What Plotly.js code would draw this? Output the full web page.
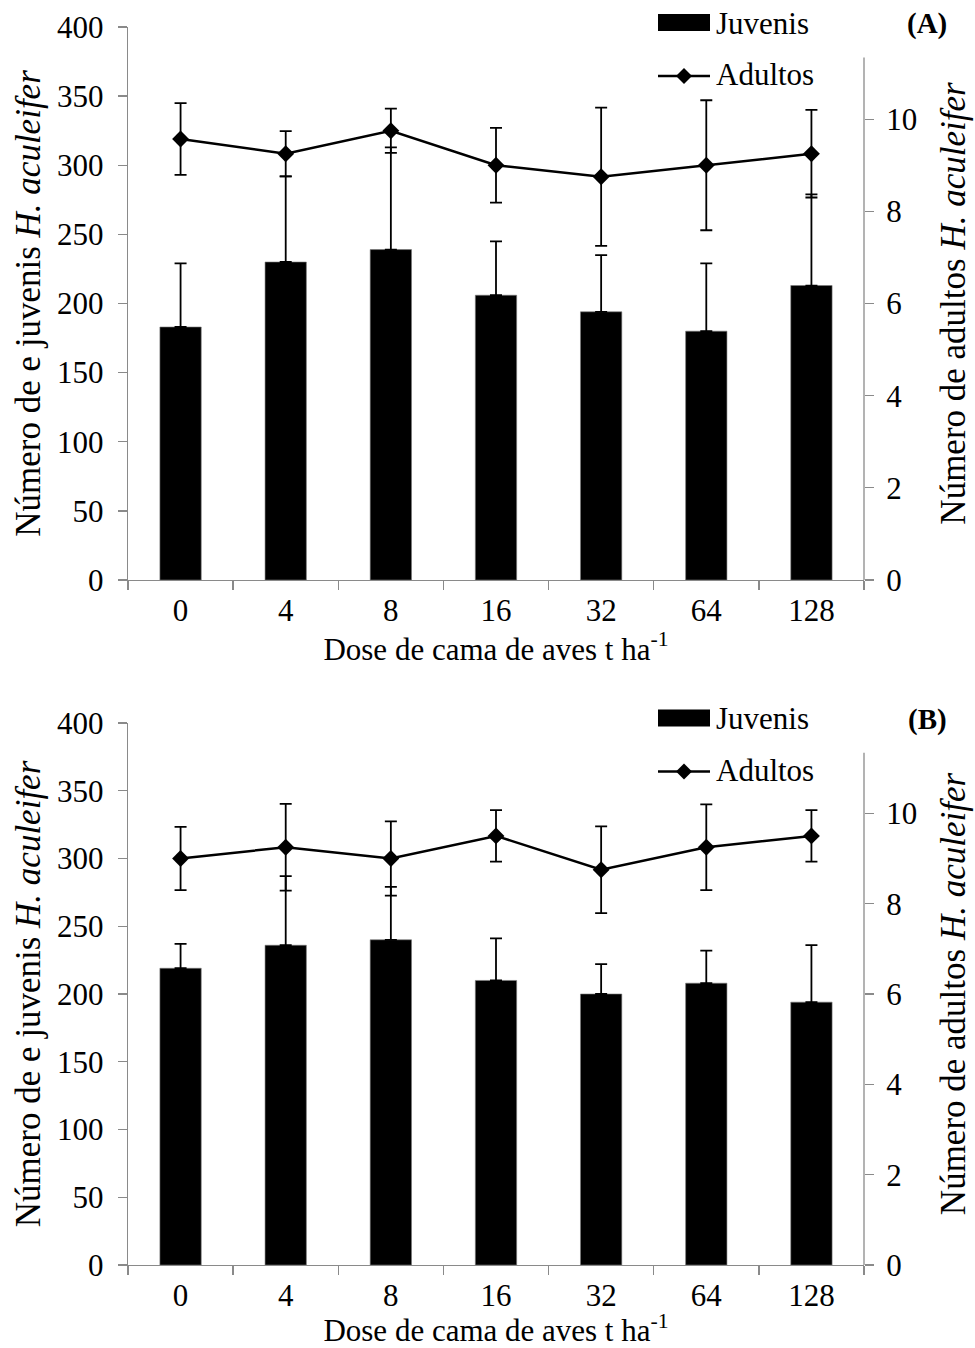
<!DOCTYPE html>
<html>
<head>
<meta charset="utf-8">
<script src="https://cdn.plot.ly/plotly-3.0.1.min.js"></script>
<style>html,body{margin:0;padding:0;background:#fff;}#chart{width:975px;height:1348px;}</style>
</head>
<body>
<div id="chart"></div>
<script>
// ---- data ----
const doses = ['0', '4', '8', '16', '32', '64', '128'];
const juvenisA = [183, 230, 239, 206, 194, 180, 213];
const juvenisErrA = [46, 62, 74, 39, 41, 49, 66];
const adultosA = [9.57, 9.25, 9.75, 9.0, 8.75, 9.0, 9.25];
const adultosErrA = [0.78, 0.49, 0.48, 0.81, 1.5, 1.41, 0.95];
const juvenisB = [219, 236, 240, 210, 200, 208, 194];
const juvenisErrB = [18, 51, 39, 31, 22, 24, 42];
const adultosB = [9.0, 9.25, 9.0, 9.5, 8.75, 9.25, 9.5];
const adultosErrB = [0.70, 0.96, 0.82, 0.57, 0.96, 0.95, 0.57];
const leftTicks = [0, 50, 100, 150, 200, 250, 300, 350, 400];
const rightTicks = [0, 2, 4, 6, 8, 10];
const panelLabels = ['(A)', '(B)'];

// ---- styling / geometry ----
const FONT = 'Liberation Serif, Times New Roman, serif';
const FS = 31;
const FT = 35;
const AXC = '#8a8a8a';
const W = 975, H = 1348;
const M = {l: 128, r: 111, t: 27, b: 83};
const PW = W - M.l - M.r, PH = H - M.t - M.b;
const px = x => (x - M.l) / PW;
const py = y => (H - M.b - y) / PH;

const zeros = doses.map(() => 0);

function barTrace(vals, errs, xa, ya, name) {
  return {
    type: 'bar', x: doses, y: vals, xaxis: xa, yaxis: ya, name: name,
    marker: {color: '#000', line: {color: '#7a7a7a', width: 0.6}},
    error_y: {type: 'data', symmetric: false, array: errs, arrayminus: zeros,
              color: '#000', thickness: 1.8, width: 6},
    showlegend: false, hoverinfo: 'x+y'
  };
}
function lineTrace(vals, errs, xa, ya, name) {
  return {
    type: 'scatter', mode: 'lines+markers', x: doses, y: vals, xaxis: xa, yaxis: ya, name: name,
    line: {color: '#000', width: 2.5},
    marker: {symbol: 'diamond', size: 13, color: '#000'},
    error_y: {type: 'data', array: errs, color: '#000', thickness: 1.8, width: 6},
    showlegend: false
  };
}

const data = [
  barTrace(juvenisA, juvenisErrA, 'x', 'y', 'Juvenis'),
  lineTrace(adultosA, adultosErrA, 'x', 'y2', 'Adultos'),
  barTrace(juvenisB, juvenisErrB, 'x2', 'y3', 'Juvenis'),
  lineTrace(adultosB, adultosErrB, 'x2', 'y4', 'Adultos')
];

const tickFont = {family: FONT, size: FS, color: '#000'};
function xAxis(anchor) {
  return {
    anchor: anchor, domain: [0, 1], type: 'category', categoryorder: 'array', categoryarray: doses,
    showline: true, linecolor: AXC, linewidth: 1.3, showgrid: false, zeroline: false,
    ticks: 'outside', tickson: 'boundaries', ticklen: 9, tickcolor: AXC, tickwidth: 1.3,
    tickfont: tickFont, ticklabelstandoff: 2,
    title: {text: 'Dose de cama de aves t ha<sup>-1</sup>', font: {family: FONT, size: FS, color: '#000'}, standoff: 0}
  };
}
function yLeft(anchor, domain) {
  return {
    anchor: anchor, domain: domain, range: [0, 400], tickvals: leftTicks,
    showline: true, linecolor: AXC, linewidth: 1.3, showgrid: false, zeroline: false,
    ticks: 'outside', ticklen: 9, tickcolor: AXC, tickwidth: 1.3, tickfont: tickFont,
    ticklabelstandoff: 8,
    title: {text: 'Número de e juvenis <i>H. aculeifer</i>', font: {family: FONT, size: FT, color: '#000'}, standoff: 5}
  };
}
function yRight(overlay, anchor) {
  return {
    overlaying: overlay, anchor: anchor, side: 'right', range: [0, 12], tickvals: rightTicks,
    showline: false, showgrid: false, zeroline: false,
    ticks: 'outside', ticklen: 9, tickcolor: AXC, tickwidth: 1.3, tickfont: tickFont,
    ticklabelstandoff: 6,
    title: {text: 'Número de adultos <i>H. aculeifer</i>', font: {family: FONT, size: FT, color: '#000'}, standoff: 24}
  };
}

const domA = [py(580), 1];
const domB = [0, py(723)];

const shapes = [];
const annotations = [];
const offsets = [0, 695.5];
const rightAxisRefs = ['y2', 'y4'];
offsets.forEach((o, i) => {
  // right axis line (top hidden behind legend as in original)
  shapes.push({type: 'line', xref: 'paper', yref: rightAxisRefs[i], x0: 1, x1: 1, y0: 0, y1: 11.34,
               line: {color: AXC, width: 1.3}});
  // legend: Juvenis swatch
  shapes.push({type: 'rect', xref: 'paper', yref: 'paper', x0: px(658), x1: px(710), y0: py(31 + o), y1: py(14 + o),
               fillcolor: '#000', line: {width: 0}});
  // legend: Adultos line + diamond
  shapes.push({type: 'line', xref: 'paper', yref: 'paper', x0: px(658), x1: px(710), y0: py(76 + o), y1: py(76 + o),
               line: {color: '#000', width: 2.5}});
  const cx = 684, cy = 76 + o, r = 8;
  shapes.push({type: 'path', xref: 'paper', yref: 'paper',
               path: `M ${px(cx - r)},${py(cy)} L ${px(cx)},${py(cy - r)} L ${px(cx + r)},${py(cy)} L ${px(cx)},${py(cy + r)} Z`,
               fillcolor: '#000', line: {width: 0}});
  annotations.push({xref: 'paper', yref: 'paper', x: px(714), y: py(23 + o), xanchor: 'left', yanchor: 'middle',
                    text: 'Juvenis', showarrow: false, font: {family: FONT, size: FS, color: '#000'}});
  annotations.push({xref: 'paper', yref: 'paper', x: px(714), y: py(75 + o), xanchor: 'left', yanchor: 'middle',
                    text: 'Adultos', showarrow: false, font: {family: FONT, size: FS, color: '#000'}});
  annotations.push({xref: 'paper', yref: 'paper', x: px(949), y: py(24 + o), xanchor: 'right', yanchor: 'middle',
                    text: '<b>' + panelLabels[i] + '</b>', showarrow: false, font: {family: FONT, size: 29, color: '#000'}});
});

const layout = {
  width: W, height: H, margin: M,
  paper_bgcolor: '#fff', plot_bgcolor: '#fff',
  showlegend: false, bargap: 0.607,
  font: {family: FONT, size: FS, color: '#000'},
  xaxis: xAxis('y'),
  yaxis: yLeft('x', domA),
  yaxis2: yRight('y', 'x'),
  xaxis2: xAxis('y3'),
  yaxis3: yLeft('x2', domB),
  yaxis4: yRight('y3', 'x2'),
  shapes: shapes,
  annotations: annotations
};

Plotly.newPlot('chart', data, layout, {displayModeBar: false, staticPlot: true});
</script>
</body>
</html>
